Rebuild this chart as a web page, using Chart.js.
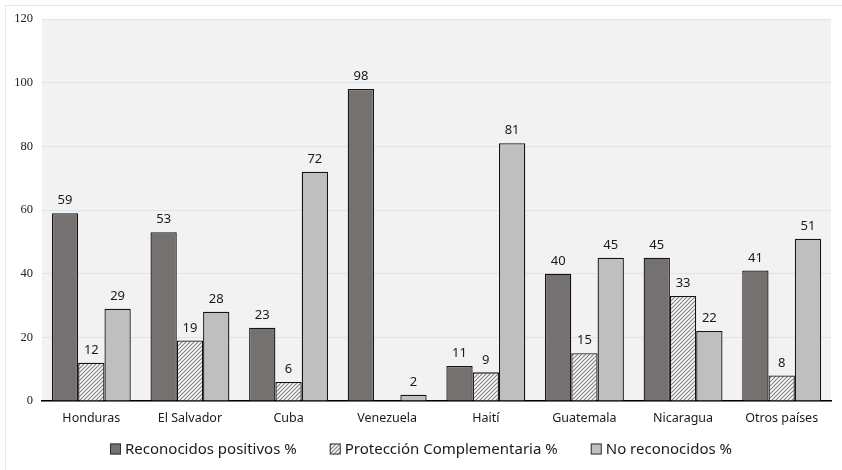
<!DOCTYPE html>
<html>
<head>
<meta charset="utf-8">
<script src="https://cdn.jsdelivr.net/npm/chart.js@4/dist/chart.umd.min.js"></script>
<style>
  html, body { margin: 0; padding: 0; background: #ffffff; }
  #wrap { position: relative; width: 842px; height: 470px; overflow: hidden; }
  #frame { position: absolute; left: 5px; top: 5px; width: 860px; height: 490px;
           border: 1px solid #e3e7ed; box-sizing: border-box; }
  canvas { position: absolute; left: 0; top: 0; }
</style>
</head>
<body>
<div id="wrap">
  <div id="frame"></div>
  <canvas id="chart" width="842" height="470"></canvas>
</div>
<script>
// Country groups on the x axis
const categories = ['Honduras', 'El Salvador', 'Cuba', 'Venezuela', 'Haití', 'Guatemala', 'Nicaragua', 'Otros países'];

// Share of each resolution type per country (%)
const reconocidosPositivos = [59, 53, 23, 98, 11, 40, 45, 41];
const proteccionComplementaria = [12, 19, 6, 0, 9, 15, 33, 8];
const noReconocidos = [29, 28, 72, 2, 81, 45, 22, 51];

// Y axis ticks
const yTicks = [0, 20, 40, 60, 80, 100, 120];

const seriesNames = ['Reconocidos positivos %', 'Protección Complementaria %', 'No reconocidos %'];

// Diagonal hatch fill for the complementary-protection bars
function makeHatch() {
  const c = document.createElement('canvas');
  const s = 4;
  c.width = s; c.height = s;
  const g = c.getContext('2d');
  g.fillStyle = '#ffffff';
  g.fillRect(0, 0, s, s);
  g.strokeStyle = '#808080';
  g.lineWidth = 1.2;
  g.beginPath();
  g.moveTo(0, s); g.lineTo(s, 0);
  g.moveTo(-1, 1); g.lineTo(1, -1);
  g.moveTo(s - 1, s + 1); g.lineTo(s + 1, s - 1);
  g.stroke();
  return document.getElementById('chart').getContext('2d').createPattern(c, 'repeat');
}
const hatch = makeHatch();

// Light grey plot-area background
const plotBackground = {
  id: 'plotBackground',
  beforeDraw(chart) {
    const { ctx, chartArea: a } = chart;
    ctx.save();
    ctx.fillStyle = '#f2f2f2';
    ctx.fillRect(a.left, a.top, a.right - a.left, a.bottom - a.top);
    ctx.restore();
  }
};

// Value labels above each bar
const valueLabels = {
  id: 'valueLabels',
  afterDatasetsDraw(chart) {
    const { ctx } = chart;
    ctx.save();
    ctx.font = '13px "Noto Sans"';
    ctx.fillStyle = '#1a1a1a';
    ctx.textAlign = 'center';
    ctx.textBaseline = 'bottom';
    chart.data.datasets.forEach((ds, i) => {
      chart.getDatasetMeta(i).data.forEach((bar, j) => {
        const v = ds.data[j];
        if (!v) return;
        ctx.fillText(String(v), bar.x, bar.y - 6);
      });
    });
    ctx.restore();
  }
};

// Compact legend row below the axis labels
const bottomLegend = {
  id: 'bottomLegend',
  afterDraw(chart) {
    const { ctx, chartArea: a } = chart;
    const box = 11, gap = 4, spacing = 33;
    const y = a.bottom + 48;
    ctx.save();
    ctx.font = '15px "Noto Sans"';
    ctx.textBaseline = 'middle';
    const items = chart.data.datasets.map(ds => ({
      text: ds.label, fill: ds.backgroundColor, w: box + gap + ctx.measureText(ds.label).width
    }));
    const total = items.reduce((s, it) => s + it.w, 0) + spacing * (items.length - 1);
    let x = chart.width / 2 - total / 2;
    items.forEach(it => {
      ctx.fillStyle = it.fill;
      ctx.fillRect(x, y - box / 2, box, box);
      ctx.strokeStyle = '#333333';
      ctx.lineWidth = 1;
      ctx.strokeRect(x + 0.5, y - box / 2 + 0.5, box - 1, box - 1);
      ctx.fillStyle = '#1a1a1a';
      ctx.fillText(it.text, x + box + gap, y + 1);
      x += it.w + spacing;
    });
    ctx.restore();
  }
};

new Chart(document.getElementById('chart'), {
  type: 'bar',
  data: {
    labels: categories,
    datasets: [
      { label: seriesNames[0], data: reconocidosPositivos, backgroundColor: '#767171' },
      { label: seriesNames[1], data: proteccionComplementaria, backgroundColor: hatch },
      { label: seriesNames[2], data: noReconocidos, backgroundColor: '#bfbfbf' }
    ]
  },
  options: {
    responsive: false,
    animation: false,
    devicePixelRatio: 1,
    layout: { padding: { top: 19, right: 11, left: 0, bottom: 34 } },
    datasets: {
      bar: {
        borderColor: '#141414',
        borderWidth: 1.3,
        borderSkipped: 'bottom',
        categoryPercentage: 0.8,
        barPercentage: 1.0
      }
    },
    scales: {
      x: {
        grid: { display: false, drawTicks: false },
        border: { display: true, color: '#000000', width: 1.5 },
        ticks: { color: '#1a1a1a', font: { family: 'Noto Sans', size: 12.5 }, padding: 10 }
      },
      y: {
        min: 0,
        max: 120,
        afterFit(scale) { scale.width = 42; },
        afterBuildTicks(scale) { scale.ticks = yTicks.map(v => ({ value: v })); },
        grid: { color: '#dde3ea', lineWidth: 1, drawTicks: false },
        border: { display: false },
        ticks: { color: '#222222', font: { family: 'Liberation Serif', size: 12.5 }, padding: 9 }
      }
    },
    plugins: {
      legend: { display: false },
      tooltip: { enabled: false }
    }
  },
  plugins: [plotBackground, valueLabels, bottomLegend]
});
</script>
</body>
</html>
